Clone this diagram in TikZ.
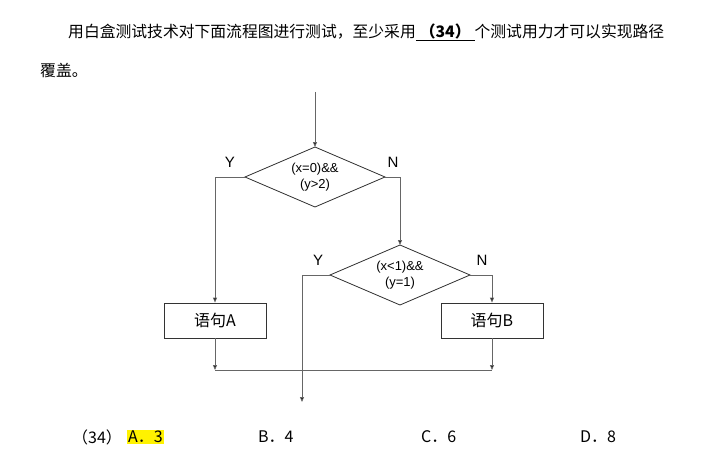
\documentclass[tikz,border=0pt]{standalone}
\usepackage{fontspec}
\setmainfont{Liberation Sans}
\newfontfamily\cjk{Noto Sans CJK SC}
\usetikzlibrary{arrows.meta}
\begin{document}
\begin{tikzpicture}[x=1pt,y=-1pt,
  ln/.style={draw=gray!80!black,line width=0.8pt},
  arr/.style={ln,-{Triangle[length=5pt,width=4pt,fill=black]}},
  dec/.style={draw=black!80,line width=0.8pt},
  lbl/.style={font=\fontsize{15}{16}\selectfont,inner sep=0pt},
  cond/.style={font=\fontsize{13}{16}\selectfont,align=center,inner sep=0pt},
  ans/.style={anchor=west,inner sep=0pt,font=\cjk\fontsize{16}{18}\selectfont}]
\useasboundingbox (0,0) rectangle (718,460);
% text
\node[anchor=west,inner sep=0pt,font=\cjk\fontsize{15.8}{18}\selectfont] (t1) at (68,32)
 {用白盒测试技术对下面流程图进行测试，至少采用\underline{\hspace{4pt}\textbf{（34）}\hspace{4pt}}个测试用力才可以实现路径};
\node[anchor=west,inner sep=0pt,font=\cjk\fontsize{15.8}{18}\selectfont] (t2) at (40,70) {覆盖。};
% diamonds
\draw[dec] (315,147) coordinate (d1t) -- (385,177) coordinate (d1r) -- (315,207) -- (245,177) coordinate (d1l) -- cycle;
\node[cond] (c1) at (315,177) {(x=0)\&\&\\(y>2)};
\draw[dec] (400,245) coordinate (d2t) -- (470,275) coordinate (d2r) -- (400,305) -- (330,275) coordinate (d2l) -- cycle;
\node[cond] (c2) at (400,275) {(x<1)\&\&\\(y=1)};
% boxes
\node[draw=black!80,line width=0.8pt,minimum width=102pt,minimum height=35pt,font=\cjk\fontsize{16}{18}\selectfont] (A) at (215,320.5) {语句A};
\node[draw=black!80,line width=0.8pt,minimum width=102pt,minimum height=35pt,font=\cjk\fontsize{16}{18}\selectfont] (B) at (492,320.5) {语句B};
\coordinate (s) at (315,92);
\coordinate (jA) at (215,370);
\coordinate (jB) at (492,370);
\coordinate (e) at (302,402);
\draw[arr] (s) -- (d1t);
\draw[arr] (d1l) -- (215,177) -- (A.north);
\draw[arr] (d1r) -- (400,177) -- (d2t);
\draw[arr] (d2l) -- (302,275) -- (e);
\draw[arr] (d2r) -- (492,275) -- (B.north);
\draw[arr] (A.south) -- (jA);
\draw[arr] (B.south) -- (jB);
\draw[ln] (jA) -- (jB);
\node[lbl] (y1) at (230,162) {Y};
\node[lbl] (n1) at (393,162) {N};
\node[lbl] (y2) at (318,260) {Y};
\node[lbl] (n2) at (482,260) {N};
% answers
\node[ans] (q) at (72,437) {（34）};
\node[ans,inner sep=1pt,fill=yellow] (a) at (127,437) {A．3};
\node[ans] (b) at (258,437) {B．4};
\node[ans] (c) at (421,437) {C．6};
\node[ans] (d) at (580,437) {D．8};
\end{tikzpicture}
\end{document}
